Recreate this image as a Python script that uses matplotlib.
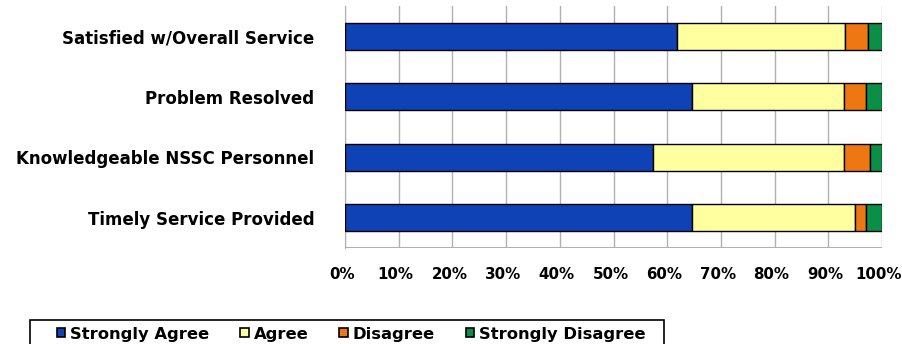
import matplotlib
matplotlib.use("Agg")
import matplotlib.pyplot as plt
from matplotlib.patches import Patch, Rectangle
from matplotlib.transforms import ScaledTranslation

# data, bottom row first
categories = ["Timely Service Provided", "Knowledgeable NSSC Personnel",
              "Problem Resolved", "Satisfied w/Overall Service"]
strongly_agree = [64.6, 57.3, 64.6, 61.8]
agree = [30.4, 35.6, 28.3, 31.3]
disagree = [2.0, 4.9, 4.1, 4.2]
strongly_disagree = [3.0, 2.2, 3.0, 2.7]
series_names = ["Strongly Agree", "Agree", "Disagree", "Strongly Disagree"]
colors = ["#0F43B5", "#FFFFA0", "#EE7714", "#0B8F47"]
xticks = list(range(0, 101, 10))

plt.rcParams["font.family"] = ["DejaVu Sans"]
plt.rcParams["font.weight"] = "bold"

W, H = 902, 344
fig = plt.figure(figsize=(W / 100, H / 100), dpi=100)
ax = fig.add_axes([345 / W, 1 - 248 / H, 537 / W, 242 / H])

series = [strongly_agree, agree, disagree, strongly_disagree]
ypos = list(range(len(categories)))
left = [0.0] * len(categories)
for vals, col, name in zip(series, colors, series_names):
    ax.barh(ypos, vals, left=left, height=0.45, color=col,
            edgecolor="black", linewidth=1.0, label=name, zorder=3)
    left = [l + v for l, v in zip(left, vals)]

ax.set_xlim(0, 100)
ax.set_ylim(-0.5, 3.5)
ax.set_xticks(xticks)
ax.set_xticklabels([f"{t}%" for t in xticks], fontsize=10.8, fontweight="bold")
ax.set_yticks(ypos)
ax.set_yticklabels(categories, fontsize=12, fontweight="bold")
ax.tick_params(axis="x", length=0, pad=14)
ax.tick_params(axis="y", length=0, pad=22)
# nudge x tick labels a bit left so 100% stays inside
shift = ScaledTranslation(-3 / 100, 0, fig.dpi_scale_trans)
for lab in ax.get_xticklabels():
    lab.set_transform(lab.get_transform() + shift)
ax.grid(axis="x", color="#B0B0B0", linewidth=1.0, zorder=0)
for s in ["top", "right", "bottom"]:
    ax.spines[s].set_visible(False)
ax.spines["left"].set_color("#B0B0B0")
ax.axhline(-0.5, color="#B0B0B0", linewidth=1.5, zorder=1)

handles = [Patch(facecolor=c, edgecolor="black", linewidth=1.2, label=n)
           for c, n in zip(colors, series_names)]
leg = fig.legend(handles=handles, ncol=4, loc="center left",
                 bbox_to_anchor=(57 / W, 1 - 334 / H),
                 frameon=False, prop={"size": 11.8, "weight": "bold"},
                 handlelength=0.5, handleheight=0.5, handletextpad=0.3,
                 columnspacing=1.9, borderpad=0, borderaxespad=0)
fig.add_artist(Rectangle((30 / W, -0.1), (664 - 30) / W, 0.1 + 1 - 320 / H,
                         transform=fig.transFigure, fill=False,
                         edgecolor="black", linewidth=1.2))

fig.savefig("out.png", dpi=100)
plt.close(fig)
